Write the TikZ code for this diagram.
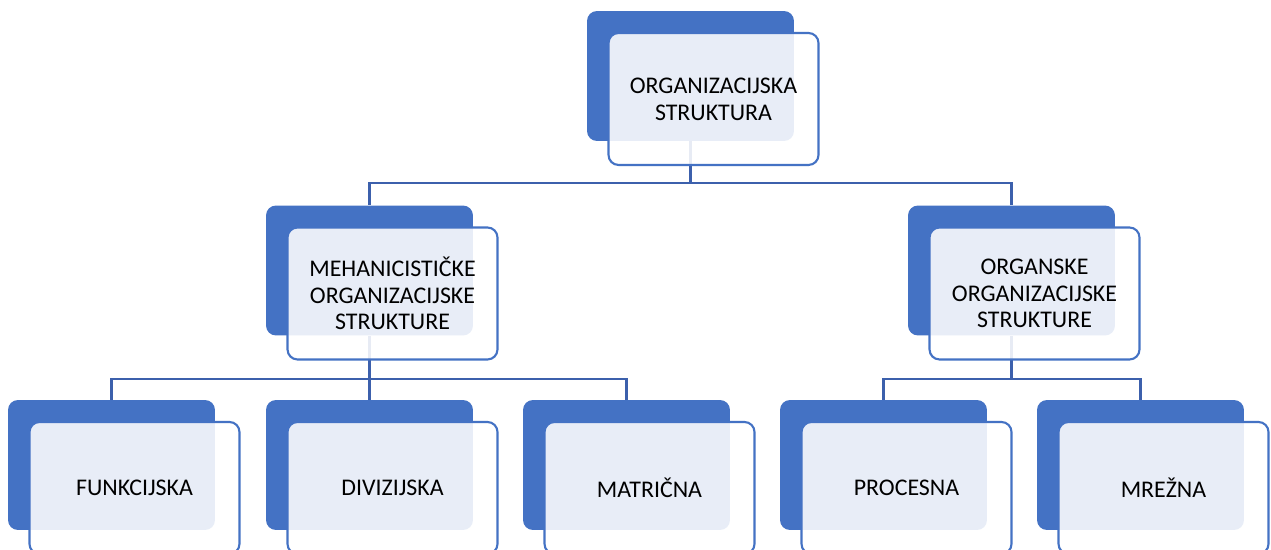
\documentclass[tikz,border=0pt]{standalone}
\usepackage{fontspec}
\setmainfont{Carlito}
\usepackage{tikz}
\definecolor{boxblue}{RGB}{68,114,196}
\definecolor{linkblue}{RGB}{60,96,172}
\tikzset{
  back/.style={draw=none,fill=boxblue,rounded corners=0.2cm,minimum width=4.14cm,minimum height=2.6cm},
  front/.style={draw=boxblue,line width=1.2pt,fill=white,fill opacity=0.88,text opacity=1,rounded corners=0.2cm,
    minimum width=4.2cm,minimum height=2.64cm,align=center,font=\fontsize{13.6}{15.2}\selectfont,xshift=0.46cm,yshift=-0.46cm},
  link/.style={draw=linkblue,line width=1.2pt}
}

\begin{document}
\begin{tikzpicture}[x=0.02cm,y=-0.02cm]
                \clip (0,0) rectangle (1271,550);
                \fill[white] (0,0) rectangle (1271,550);
                % back boxes
                \node[back] (org) at (690.5,76) {};
                \node[back] (meh) at (369.5,270.5) {};
                \node[back] (orgs) at (1011.5,270.5) {};
                \node[back] (fun) at (111.5,465) {};
                \node[back] (div) at (369.5,465) {};
                \node[back] (mat) at (626.5,465) {};
                \node[back] (pro) at (883.5,465) {};
                \node[back] (mre) at (1140.5,465) {};
                % connectors
                \draw[link] (org.south) -- ++(0,42) -| (meh.north);
                \draw[link] (org.south) -- ++(0,42) -| (orgs.north);
                \draw[link] (meh.south) -- ++(0,43) -| (fun.north);
                \draw[link] (meh.south) -- ++(0,43) -| (div.north);
                \draw[link] (meh.south) -- ++(0,43) -| (mat.north);
                \draw[link] (orgs.south) -- ++(0,43) -| (pro.north);
                \draw[link] (orgs.south) -- ++(0,43) -| (mre.north);
                % front boxes
                \node[front] (orgf) at (org) {ORGANIZACIJSKA\\STRUKTURA};
                \node[front] (mehf) at (meh) {MEHANICISTIČKE\\ORGANIZACIJSKE\\STRUKTURE};
                \node[front] (orgsf) at (orgs) {ORGANSKE\\ORGANIZACIJSKE\\STRUKTURE};
                \node[front] (funf) at (fun) {FUNKCIJSKA};
                \node[front] (divf) at (div) {DIVIZIJSKA};
                \node[front] (matf) at (mat) {MATRIČNA};
                \node[front] (prof) at (pro) {PROCESNA};
                \node[front] (mref) at (mre) {MREŽNA};
\end{tikzpicture}
\end{document}
